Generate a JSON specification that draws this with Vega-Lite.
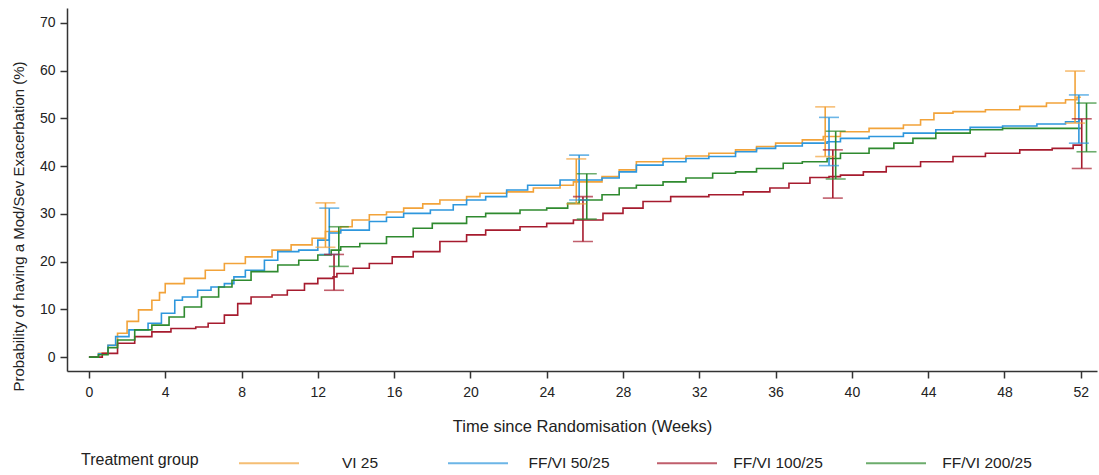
{
  "$schema": "https://vega.github.io/schema/vega-lite/v6.json",
  "autosize": {"type": "none"},
  "width": 1030,
  "height": 363,
  "padding": {"left": 67, "top": 8, "right": 2, "bottom": 104},
  "background": "white",
  "config": {
    "view": {"stroke": null},
    "font": "Liberation Sans",
    "axis": {
      "domainColor": "#333333", "domainWidth": 1.5, "tickColor": "#333333", "tickWidth": 1.5, "tickSize": 7,
      "labelColor": "#222222", "labelFont": "Liberation Sans", "labelFontSize": 14,
      "titleFont": "Liberation Sans", "titleFontWeight": "normal", "titleColor": "#222222", "grid": false
    },
    "legend": {
      "labelFont": "Liberation Sans", "titleFont": "Liberation Sans", "labelColor": "#222222", "titleColor": "#222222"
    }
  },
  "datasets": {
    "curves": [
      {"g": "VI 25", "w": 0, "v": 0}, {"g": "VI 25", "w": 0.5, "v": 0.8}, {"g": "VI 25", "w": 1.0, "v": 2.5}, {"g": "VI 25", "w": 1.5, "v": 5.0}, {"g": "VI 25", "w": 2.0, "v": 7.5}, {"g": "VI 25", "w": 2.6, "v": 9.9}, {"g": "VI 25", "w": 3.3, "v": 11.9}, {"g": "VI 25", "w": 3.7, "v": 13.5}, {"g": "VI 25", "w": 4.0, "v": 15.4}, {"g": "VI 25", "w": 5.0, "v": 16.5}, {"g": "VI 25", "w": 6.1, "v": 18.2}, {"g": "VI 25", "w": 7.1, "v": 19.6}, {"g": "VI 25", "w": 8.2, "v": 21.0}, {"g": "VI 25", "w": 9.6, "v": 22.4}, {"g": "VI 25", "w": 10.6, "v": 23.5}, {"g": "VI 25", "w": 11.7, "v": 24.9}, {"g": "VI 25", "w": 12.4, "v": 26.3}, {"g": "VI 25", "w": 13.2, "v": 27.3}, {"g": "VI 25", "w": 13.8, "v": 28.7}, {"g": "VI 25", "w": 14.7, "v": 29.8}, {"g": "VI 25", "w": 15.6, "v": 30.4}, {"g": "VI 25", "w": 16.5, "v": 31.2}, {"g": "VI 25", "w": 17.5, "v": 32.1}, {"g": "VI 25", "w": 18.4, "v": 32.9}, {"g": "VI 25", "w": 19.8, "v": 33.6}, {"g": "VI 25", "w": 20.5, "v": 34.3}, {"g": "VI 25", "w": 21.9, "v": 34.6}, {"g": "VI 25", "w": 23.3, "v": 35.4}, {"g": "VI 25", "w": 24.7, "v": 36.0}, {"g": "VI 25", "w": 25.4, "v": 36.7}, {"g": "VI 25", "w": 26.9, "v": 37.8}, {"g": "VI 25", "w": 27.8, "v": 39.2}, {"g": "VI 25", "w": 28.7, "v": 40.9}, {"g": "VI 25", "w": 30.1, "v": 41.6}, {"g": "VI 25", "w": 31.3, "v": 42.1}, {"g": "VI 25", "w": 32.5, "v": 42.7}, {"g": "VI 25", "w": 33.9, "v": 43.4}, {"g": "VI 25", "w": 35.0, "v": 44.1}, {"g": "VI 25", "w": 36.0, "v": 44.8}, {"g": "VI 25", "w": 37.4, "v": 45.5}, {"g": "VI 25", "w": 38.5, "v": 46.2}, {"g": "VI 25", "w": 39.4, "v": 47.2}, {"g": "VI 25", "w": 40.9, "v": 47.9}, {"g": "VI 25", "w": 42.7, "v": 48.6}, {"g": "VI 25", "w": 43.6, "v": 49.7}, {"g": "VI 25", "w": 44.3, "v": 51.1}, {"g": "VI 25", "w": 45.3, "v": 51.4}, {"g": "VI 25", "w": 47.0, "v": 51.8}, {"g": "VI 25", "w": 48.8, "v": 52.5}, {"g": "VI 25", "w": 50.2, "v": 53.2}, {"g": "VI 25", "w": 51.2, "v": 53.9}, {"g": "VI 25", "w": 51.8, "v": 54.4}, {"g": "VI 25", "w": 52.0, "v": 54.4},

      {"g": "FF/VI 50/25", "w": 0, "v": 0}, {"g": "FF/VI 50/25", "w": 0.5, "v": 0.7}, {"g": "FF/VI 50/25", "w": 1.0, "v": 2.5}, {"g": "FF/VI 50/25", "w": 1.4, "v": 4.3}, {"g": "FF/VI 50/25", "w": 2.1, "v": 5.7}, {"g": "FF/VI 50/25", "w": 3.1, "v": 7.1}, {"g": "FF/VI 50/25", "w": 3.8, "v": 9.2}, {"g": "FF/VI 50/25", "w": 4.5, "v": 11.9}, {"g": "FF/VI 50/25", "w": 4.9, "v": 12.6}, {"g": "FF/VI 50/25", "w": 5.7, "v": 14.0}, {"g": "FF/VI 50/25", "w": 6.4, "v": 14.7}, {"g": "FF/VI 50/25", "w": 7.1, "v": 15.4}, {"g": "FF/VI 50/25", "w": 7.6, "v": 16.8}, {"g": "FF/VI 50/25", "w": 8.2, "v": 18.2}, {"g": "FF/VI 50/25", "w": 9.2, "v": 20.3}, {"g": "FF/VI 50/25", "w": 9.9, "v": 22.1}, {"g": "FF/VI 50/25", "w": 11.0, "v": 22.4}, {"g": "FF/VI 50/25", "w": 12.0, "v": 24.5}, {"g": "FF/VI 50/25", "w": 12.6, "v": 26.0}, {"g": "FF/VI 50/25", "w": 13.2, "v": 26.6}, {"g": "FF/VI 50/25", "w": 14.7, "v": 28.4}, {"g": "FF/VI 50/25", "w": 15.6, "v": 29.3}, {"g": "FF/VI 50/25", "w": 16.5, "v": 30.1}, {"g": "FF/VI 50/25", "w": 17.9, "v": 30.8}, {"g": "FF/VI 50/25", "w": 19.1, "v": 31.9}, {"g": "FF/VI 50/25", "w": 19.8, "v": 32.9}, {"g": "FF/VI 50/25", "w": 20.8, "v": 33.6}, {"g": "FF/VI 50/25", "w": 21.9, "v": 35.0}, {"g": "FF/VI 50/25", "w": 23.0, "v": 36.0}, {"g": "FF/VI 50/25", "w": 24.7, "v": 37.1}, {"g": "FF/VI 50/25", "w": 26.9, "v": 37.5}, {"g": "FF/VI 50/25", "w": 27.8, "v": 38.8}, {"g": "FF/VI 50/25", "w": 28.7, "v": 40.2}, {"g": "FF/VI 50/25", "w": 30.1, "v": 40.9}, {"g": "FF/VI 50/25", "w": 31.3, "v": 41.6}, {"g": "FF/VI 50/25", "w": 32.5, "v": 42.0}, {"g": "FF/VI 50/25", "w": 33.9, "v": 43.0}, {"g": "FF/VI 50/25", "w": 35.0, "v": 43.7}, {"g": "FF/VI 50/25", "w": 36.0, "v": 44.2}, {"g": "FF/VI 50/25", "w": 37.4, "v": 44.8}, {"g": "FF/VI 50/25", "w": 38.7, "v": 45.1}, {"g": "FF/VI 50/25", "w": 39.4, "v": 45.8}, {"g": "FF/VI 50/25", "w": 40.9, "v": 46.2}, {"g": "FF/VI 50/25", "w": 42.7, "v": 46.9}, {"g": "FF/VI 50/25", "w": 44.4, "v": 47.6}, {"g": "FF/VI 50/25", "w": 46.2, "v": 48.1}, {"g": "FF/VI 50/25", "w": 47.9, "v": 48.4}, {"g": "FF/VI 50/25", "w": 49.7, "v": 48.8}, {"g": "FF/VI 50/25", "w": 51.2, "v": 49.3}, {"g": "FF/VI 50/25", "w": 51.9, "v": 49.7}, {"g": "FF/VI 50/25", "w": 52.0, "v": 49.7},

      {"g": "FF/VI 100/25", "w": 0, "v": 0}, {"g": "FF/VI 100/25", "w": 0.7, "v": 0.8}, {"g": "FF/VI 100/25", "w": 1.5, "v": 2.9}, {"g": "FF/VI 100/25", "w": 2.4, "v": 4.3}, {"g": "FF/VI 100/25", "w": 3.3, "v": 5.3}, {"g": "FF/VI 100/25", "w": 4.3, "v": 6.0}, {"g": "FF/VI 100/25", "w": 5.6, "v": 6.3}, {"g": "FF/VI 100/25", "w": 6.25, "v": 7.1}, {"g": "FF/VI 100/25", "w": 7.1, "v": 8.8}, {"g": "FF/VI 100/25", "w": 7.8, "v": 11.2}, {"g": "FF/VI 100/25", "w": 8.5, "v": 12.6}, {"g": "FF/VI 100/25", "w": 9.6, "v": 13.0}, {"g": "FF/VI 100/25", "w": 10.4, "v": 14.0}, {"g": "FF/VI 100/25", "w": 11.3, "v": 15.4}, {"g": "FF/VI 100/25", "w": 12.0, "v": 16.5}, {"g": "FF/VI 100/25", "w": 12.8, "v": 16.8}, {"g": "FF/VI 100/25", "w": 13.0, "v": 17.5}, {"g": "FF/VI 100/25", "w": 13.85, "v": 18.6}, {"g": "FF/VI 100/25", "w": 14.7, "v": 19.6}, {"g": "FF/VI 100/25", "w": 15.9, "v": 21.0}, {"g": "FF/VI 100/25", "w": 17.0, "v": 22.1}, {"g": "FF/VI 100/25", "w": 18.4, "v": 24.2}, {"g": "FF/VI 100/25", "w": 19.8, "v": 25.6}, {"g": "FF/VI 100/25", "w": 20.8, "v": 26.6}, {"g": "FF/VI 100/25", "w": 22.6, "v": 27.3}, {"g": "FF/VI 100/25", "w": 24.0, "v": 28.0}, {"g": "FF/VI 100/25", "w": 25.4, "v": 28.7}, {"g": "FF/VI 100/25", "w": 26.95, "v": 30.1}, {"g": "FF/VI 100/25", "w": 28.0, "v": 31.2}, {"g": "FF/VI 100/25", "w": 29.05, "v": 32.6}, {"g": "FF/VI 100/25", "w": 30.5, "v": 33.6}, {"g": "FF/VI 100/25", "w": 32.5, "v": 34.0}, {"g": "FF/VI 100/25", "w": 34.3, "v": 34.6}, {"g": "FF/VI 100/25", "w": 35.7, "v": 35.4}, {"g": "FF/VI 100/25", "w": 36.7, "v": 36.4}, {"g": "FF/VI 100/25", "w": 37.8, "v": 37.6}, {"g": "FF/VI 100/25", "w": 38.8, "v": 37.8}, {"g": "FF/VI 100/25", "w": 39.4, "v": 38.1}, {"g": "FF/VI 100/25", "w": 40.6, "v": 38.8}, {"g": "FF/VI 100/25", "w": 41.8, "v": 39.9}, {"g": "FF/VI 100/25", "w": 43.6, "v": 40.9}, {"g": "FF/VI 100/25", "w": 45.3, "v": 42.0}, {"g": "FF/VI 100/25", "w": 47.0, "v": 42.7}, {"g": "FF/VI 100/25", "w": 48.8, "v": 43.4}, {"g": "FF/VI 100/25", "w": 50.5, "v": 43.7}, {"g": "FF/VI 100/25", "w": 51.6, "v": 44.4}, {"g": "FF/VI 100/25", "w": 52.0, "v": 44.6},

      {"g": "FF/VI 200/25", "w": 0, "v": 0}, {"g": "FF/VI 200/25", "w": 0.5, "v": 0.5}, {"g": "FF/VI 200/25", "w": 1.0, "v": 2.0}, {"g": "FF/VI 200/25", "w": 1.5, "v": 3.6}, {"g": "FF/VI 200/25", "w": 2.4, "v": 5.7}, {"g": "FF/VI 200/25", "w": 3.3, "v": 6.7}, {"g": "FF/VI 200/25", "w": 4.2, "v": 8.4}, {"g": "FF/VI 200/25", "w": 5.0, "v": 10.5}, {"g": "FF/VI 200/25", "w": 5.9, "v": 12.6}, {"g": "FF/VI 200/25", "w": 6.8, "v": 14.7}, {"g": "FF/VI 200/25", "w": 7.5, "v": 16.1}, {"g": "FF/VI 200/25", "w": 8.5, "v": 17.9}, {"g": "FF/VI 200/25", "w": 9.9, "v": 19.3}, {"g": "FF/VI 200/25", "w": 11.0, "v": 20.3}, {"g": "FF/VI 200/25", "w": 12.0, "v": 21.4}, {"g": "FF/VI 200/25", "w": 12.7, "v": 22.4}, {"g": "FF/VI 200/25", "w": 13.2, "v": 23.1}, {"g": "FF/VI 200/25", "w": 14.2, "v": 23.8}, {"g": "FF/VI 200/25", "w": 15.6, "v": 25.2}, {"g": "FF/VI 200/25", "w": 17.0, "v": 27.0}, {"g": "FF/VI 200/25", "w": 18.0, "v": 28.0}, {"g": "FF/VI 200/25", "w": 19.8, "v": 29.4}, {"g": "FF/VI 200/25", "w": 20.8, "v": 30.1}, {"g": "FF/VI 200/25", "w": 22.6, "v": 30.8}, {"g": "FF/VI 200/25", "w": 24.0, "v": 31.2}, {"g": "FF/VI 200/25", "w": 25.1, "v": 32.2}, {"g": "FF/VI 200/25", "w": 25.7, "v": 32.9}, {"g": "FF/VI 200/25", "w": 26.9, "v": 34.0}, {"g": "FF/VI 200/25", "w": 27.8, "v": 35.4}, {"g": "FF/VI 200/25", "w": 28.7, "v": 36.0}, {"g": "FF/VI 200/25", "w": 30.1, "v": 36.7}, {"g": "FF/VI 200/25", "w": 31.3, "v": 37.5}, {"g": "FF/VI 200/25", "w": 32.7, "v": 38.5}, {"g": "FF/VI 200/25", "w": 33.9, "v": 38.8}, {"g": "FF/VI 200/25", "w": 35.0, "v": 39.5}, {"g": "FF/VI 200/25", "w": 36.4, "v": 40.6}, {"g": "FF/VI 200/25", "w": 37.4, "v": 40.9}, {"g": "FF/VI 200/25", "w": 38.7, "v": 41.6}, {"g": "FF/VI 200/25", "w": 39.4, "v": 42.7}, {"g": "FF/VI 200/25", "w": 40.9, "v": 43.7}, {"g": "FF/VI 200/25", "w": 42.2, "v": 44.8}, {"g": "FF/VI 200/25", "w": 43.2, "v": 45.8}, {"g": "FF/VI 200/25", "w": 44.4, "v": 46.9}, {"g": "FF/VI 200/25", "w": 46.2, "v": 47.6}, {"g": "FF/VI 200/25", "w": 47.9, "v": 47.9}, {"g": "FF/VI 200/25", "w": 52.0, "v": 47.9}
    ],
    "ci": [
      {"g": "VI 25", "w": 12.4, "lo": 23.0, "hi": 32.3}, {"g": "VI 25", "w": 25.55, "lo": 32.1, "hi": 41.5}, {"g": "VI 25", "w": 38.6, "lo": 42.0, "hi": 52.4}, {"g": "VI 25", "w": 51.7, "lo": 49.0, "hi": 59.9},
      {"g": "FF/VI 50/25", "w": 12.6, "lo": 21.5, "hi": 31.2}, {"g": "FF/VI 50/25", "w": 25.7, "lo": 32.9, "hi": 42.3}, {"g": "FF/VI 50/25", "w": 38.8, "lo": 40.1, "hi": 50.2}, {"g": "FF/VI 50/25", "w": 51.9, "lo": 44.8, "hi": 54.9},
      {"g": "FF/VI 100/25", "w": 12.85, "lo": 14.0, "hi": 21.5}, {"g": "FF/VI 100/25", "w": 25.9, "lo": 24.2, "hi": 33.6}, {"g": "FF/VI 100/25", "w": 39.0, "lo": 33.3, "hi": 43.4}, {"g": "FF/VI 100/25", "w": 52.05, "lo": 39.5, "hi": 49.9},
      {"g": "FF/VI 200/25", "w": 13.1, "lo": 19.0, "hi": 27.3}, {"g": "FF/VI 200/25", "w": 26.1, "lo": 28.9, "hi": 38.4}, {"g": "FF/VI 200/25", "w": 39.15, "lo": 37.3, "hi": 47.3}, {"g": "FF/VI 200/25", "w": 52.3, "lo": 43.0, "hi": 53.2}
    ]
  },
  "layer": [
    {
      "data": {"name": "curves"},
      "mark": {"type": "line", "interpolate": "step-after", "strokeWidth": 1.6},
      "encoding": {
        "x": {"field": "w", "type": "quantitative",
              "scale": {"domain": [-1.15, 52.85], "nice": false, "zero": false},
              "axis": {"values": [0,4,8,12,16,20,24,28,32,36,40,44,48,52], "title": "Time since Randomisation (Weeks)", "titleFontSize": 16.5, "labelPadding": 7, "titlePadding": 19}},
        "y": {"field": "v", "type": "quantitative",
              "scale": {"domain": [-2.9, 73.1], "nice": false, "zero": false},
              "axis": {"values": [0,10,20,30,40,50,60,70], "title": "Probability of having a Mod/Sev Exacerbation (%)", "titleFontSize": 15, "titleX": -49, "titleY": 218, "titleAngle": -90, "titleAlign": "center", "titleBaseline": "middle", "labelPadding": 5}},
        "color": {"field": "g", "type": "nominal",
                  "scale": {"domain": ["VI 25", "FF/VI 50/25", "FF/VI 100/25", "FF/VI 200/25"], "range": ["#F2A33A", "#2E97DD", "#A61B2E", "#2F8A2F"]},
                  "legend": {"title": "Treatment group", "orient": "none", "legendX": 14, "legendY": 424, "direction": "horizontal", "titleOrient": "left", "titleAnchor": "middle", "titlePadding": 39, "titleFontSize": 16, "titleFontWeight": "normal", "titleBaseline": "top", "symbolType": "stroke", "symbolSize": 3600, "symbolStrokeWidth": 2, "labelFontSize": 15.5, "labelAlign": "center", "labelOffset": 60, "gridAlign": "all", "columnPadding": 39}}
      }
    },
    {
      "data": {"name": "ci"},
      "mark": {"type": "rule", "strokeWidth": 1.6},
      "encoding": {
        "x": {"field": "w", "type": "quantitative"},
        "y": {"field": "lo", "type": "quantitative"},
        "y2": {"field": "hi"},
        "color": {"field": "g", "type": "nominal"}
      }
    },
    {
      "data": {"name": "ci"},
      "mark": {"type": "tick", "orient": "horizontal", "size": 20, "thickness": 1.6},
      "encoding": {
        "x": {"field": "w", "type": "quantitative"},
        "y": {"field": "lo", "type": "quantitative"},
        "color": {"field": "g", "type": "nominal"}
      }
    },
    {
      "data": {"name": "ci"},
      "mark": {"type": "tick", "orient": "horizontal", "size": 20, "thickness": 1.6},
      "encoding": {
        "x": {"field": "w", "type": "quantitative"},
        "y": {"field": "hi", "type": "quantitative"},
        "color": {"field": "g", "type": "nominal"}
      }
    }
  ]
}
